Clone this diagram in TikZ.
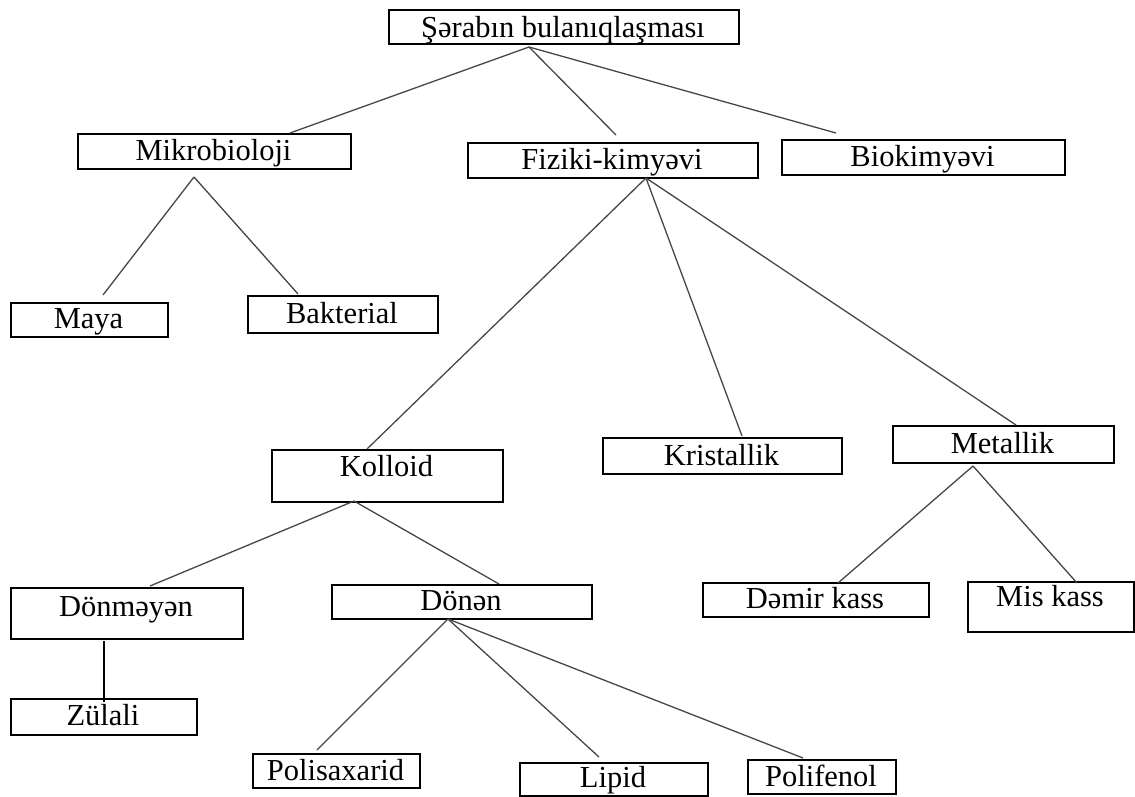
\documentclass[tikz,border=0pt]{standalone}
\usepackage{fontspec}
\setmainfont{Liberation Serif}
\tikzset{
  box/.style={draw=black, line width=1.8pt, inner sep=0pt, fill=none},
  conn/.style={draw=black!72, line width=1.3pt},
  lbl/.style={font=\fontsize{30.5}{35}\selectfont, anchor=base, inner sep=0pt, text=black}
}
\newcommand{\mkbox}[7]{%
  \pgfmathsetmacro\bw{#4-#2}\pgfmathsetmacro\bh{#5-#3}\pgfmathsetmacro\bcx{(#2+#4)/2}%
  \pgfmathsetmacro\bby{#7+3.5}%
  \node[box, anchor=north west, minimum width=\bw pt, minimum height=\bh pt] (#1) at (#2,#3) {};
  \node[lbl] (#1-t) at (\bcx,\bby) {#6};
}
\begin{document}
\begin{tikzpicture}[x=1pt,y=-1pt]
\path[use as bounding box, fill=white] (0,0) rectangle (1135,796);
% boxes
\mkbox{title}{388}{9}{738}{43}{Şərabın bulanıqlaşması}{34}
\mkbox{mikro}{77}{133}{350}{168}{Mikrobioloji}{157}
\mkbox{fiz}{467}{142}{757}{177}{Fiziki-kimyəvi}{166}
\mkbox{bio}{781}{139}{1064}{174}{Biokimyəvi}{163}
\mkbox{maya}{10}{302}{167}{336}{Maya}{325}
\mkbox{bakt}{247}{295}{437}{332}{Bakterial}{320}
\mkbox{koll}{271}{449}{502}{501}{Kolloid}{473}
\mkbox{krist}{602}{437}{841}{473}{Kristallik}{462}
\mkbox{metal}{892}{425}{1113}{462}{Metallik}{450}
\mkbox{donm}{10}{587}{242}{638}{Dönməyən}{613}
\mkbox{donen}{331}{584}{591}{618}{Dönən}{607}
\mkbox{demir}{702}{582}{928}{616}{Dəmir kass}{605}
\mkbox{mis}{967}{581}{1133}{631}{Mis kass}{603}
\mkbox{zul}{10}{698}{196}{734}{Zülali}{722}
\mkbox{polis}{252}{753}{419}{787}{Polisaxarid}{777}
\mkbox{lipid}{519}{762}{707}{795}{Lipid}{784}
\mkbox{polif}{747}{759}{895}{793}{Polifenol}{783}
% connector points
\coordinate (title-o) at (529,47);
\coordinate (mikro-i) at (290,133);
\coordinate (fiz-i) at (616,135);
\coordinate (bio-i) at (836,133);
\coordinate (mikro-o) at (194,177);
\coordinate (maya-i) at (103,295);
\coordinate (bakt-i) at (298,294);
\coordinate (fiz-o) at (646,178);
\coordinate (koll-i) at (367,449);
\coordinate (krist-i) at (742,436);
\coordinate (metal-i) at (1016,425);
\coordinate (koll-o) at (354,501);
\coordinate (donm-i) at (150,586);
\coordinate (donen-i) at (499,584);
\coordinate (donm-o) at (104,641);
\coordinate (zul-i) at (104,702);
\coordinate (donen-o) at (448,619);
\coordinate (polis-i) at (317,750);
\coordinate (lipid-i) at (599,757);
\coordinate (polif-i) at (803,758);
\coordinate (metal-o) at (973,466);
\coordinate (demir-i) at (838,583);
\coordinate (mis-i) at (1077,583);
% connectors
\draw[conn] (title-o) -- (mikro-i);
\draw[conn] (title-o) -- (fiz-i);
\draw[conn] (title-o) -- (bio-i);
\draw[conn] (mikro-o) -- (maya-i);
\draw[conn] (mikro-o) -- (bakt-i);
\draw[conn] (fiz-o) -- (koll-i);
\draw[conn] (fiz-o) -- (krist-i);
\draw[conn] (fiz-o) -- (metal-i);
\draw[conn] (koll-o) -- (donm-i);
\draw[conn] (koll-o) -- (donen-i);
\draw[conn, draw=black, line width=1.6pt] (donm-o) -- (zul-i);
\draw[conn] (donen-o) -- (polis-i);
\draw[conn] (donen-o) -- (lipid-i);
\draw[conn] (donen-o) -- (polif-i);
\draw[conn] (metal-o) -- (demir-i);
\draw[conn] (metal-o) -- (mis-i);
\end{tikzpicture}
\end{document}
